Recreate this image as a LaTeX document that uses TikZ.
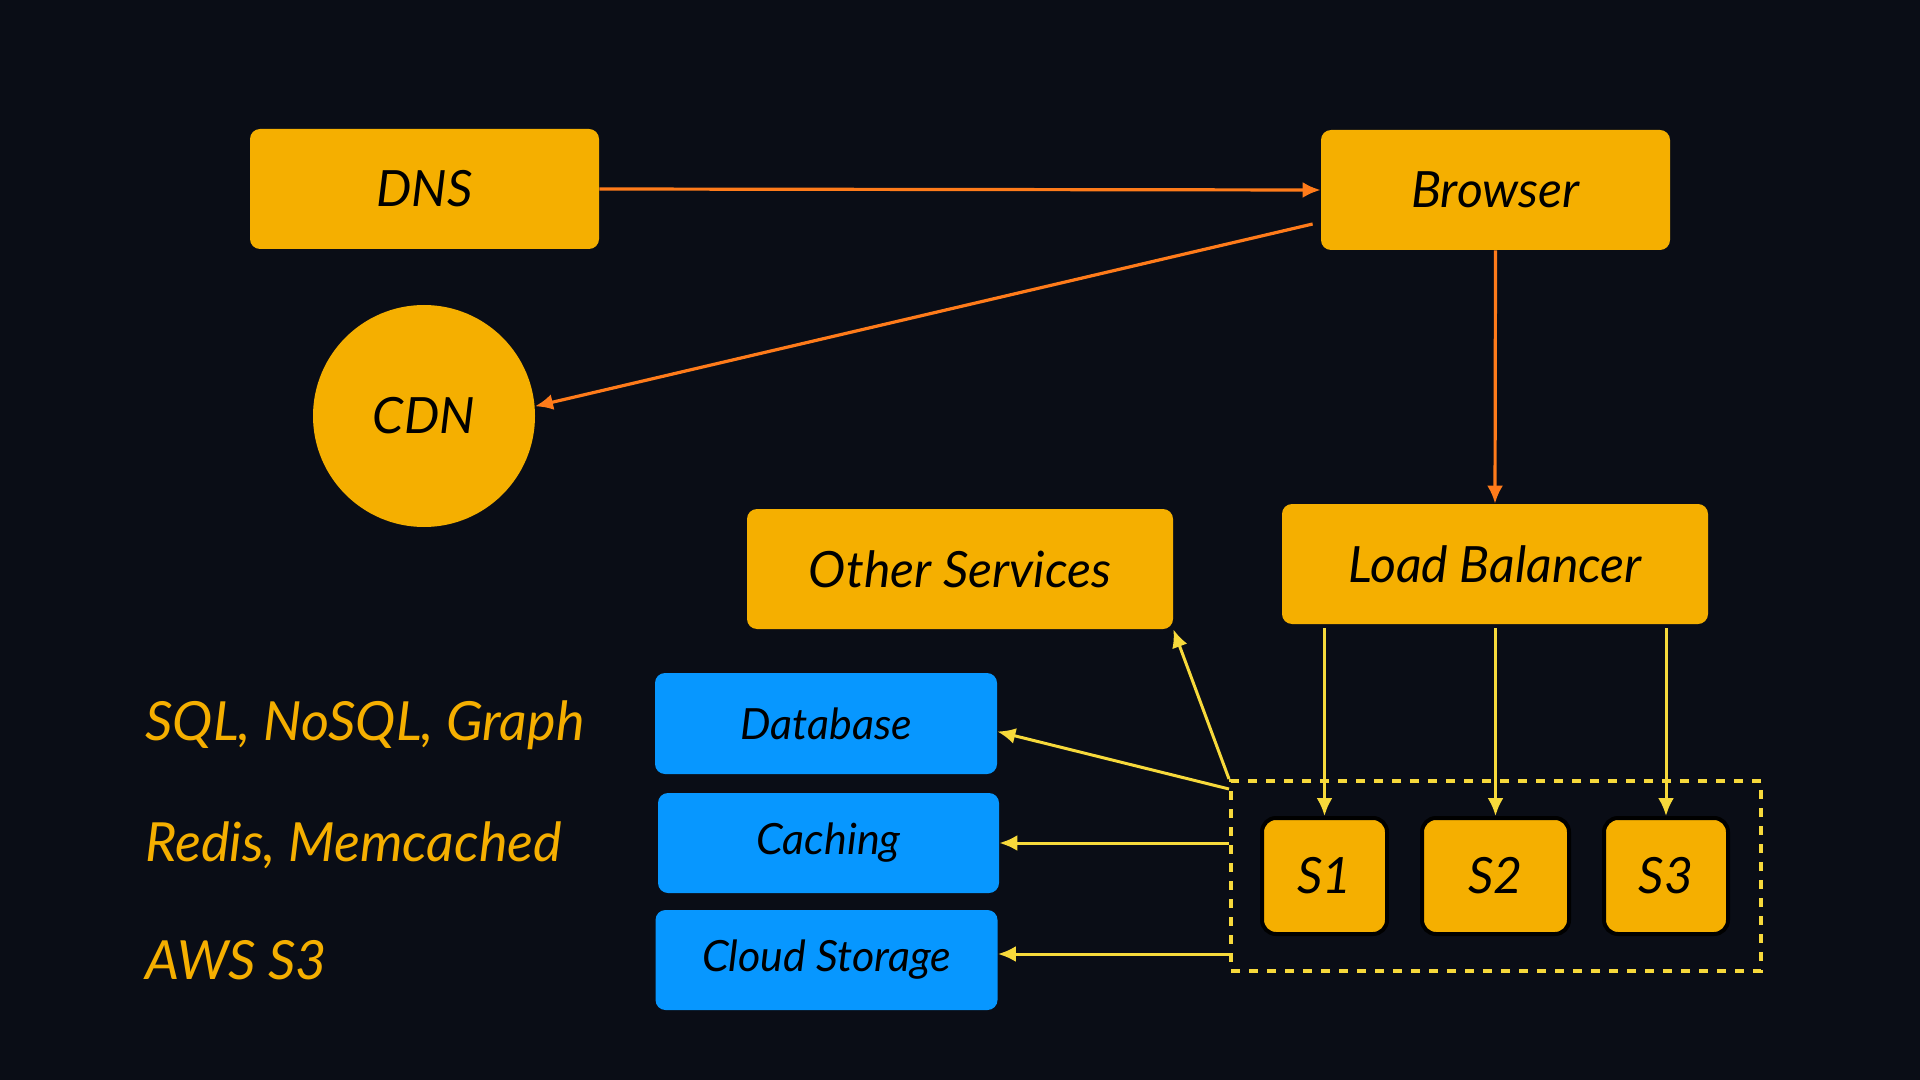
\documentclass[tikz,border=0pt]{standalone}
\usepackage{fontspec}
\setmainfont{Lato}
\usetikzlibrary{arrows.meta}
\definecolor{bg}{HTML}{0A0D16}
\definecolor{boxor}{HTML}{F5AF00}
\definecolor{boxbl}{HTML}{0797FF}
\definecolor{arror}{HTML}{FF7B1A}
\definecolor{arrye}{HTML}{F7D93B}
\begin{document}
\begin{tikzpicture}[x=0.5pt,y=-0.5pt,
  obox/.style={fill=boxor, rounded corners=5pt, inner sep=0pt, text=black,
    font=\itshape\fontsize{25}{30}\selectfont},
  bbox/.style={fill=boxbl, rounded corners=5pt, inner sep=0pt, text=black,
    font=\itshape\fontsize{21.5}{26}\selectfont},
  sbox/.style={obox, rounded corners=7pt, draw=black, line width=2pt, minimum height=58pt},
  side/.style={anchor=west, inner sep=0pt, text=boxor,
    font=\itshape\fontsize{27}{32}\selectfont},
  oarr/.style={draw=arror, line width=1.6pt, -{Latex[length=9pt,width=8pt]}},
  yarr/.style={draw=arrye, line width=1.5pt, -{Latex[length=9pt,width=8pt]}},
  grpbox/.style={draw=arrye, line width=2pt, dash pattern=on 4.5pt off 4.5pt, inner sep=0pt}
]
\fill[bg] (0,0) rectangle (1920,1080);
\useasboundingbox (0,0) rectangle (1920,1080);

\node[obox, minimum width=174.5pt, minimum height=60pt] (dns) at (424.5,189) {DNS};
\node[obox, minimum width=174.5pt, minimum height=60pt] (browser) at (1495.5,190) {Browser};
\node[circle, fill=boxor, inner sep=0pt, minimum size=111pt, text=black,
  font=\itshape\fontsize{25}{30}\selectfont] (cdn) at (424,416) {CDN};
\node[obox, minimum width=213pt, minimum height=60pt] (other) at (960,569) {Other Services};
\node[obox, minimum width=213pt, minimum height=60pt] (lb) at (1495,564) {Load Balancer};

\node[bbox, minimum width=171pt, minimum height=50.5pt] (db) at (826,723.5) {Database};
\node[bbox, minimum width=170.5pt, minimum height=50pt] (cache) at (828.5,843) {Caching};
\node[bbox, minimum width=171pt, minimum height=50pt] (cloud) at (826.5,960) {Cloud Storage};

\node[grpbox, minimum width=265pt, minimum height=95pt] (grp) at (1496,876) {};
\node[sbox, minimum width=62.5pt] (s1) at (1324.5,876) {S1};
\node[sbox, minimum width=73.5pt] (s2) at (1495.5,876) {S2};
\node[sbox, minimum width=62pt] (s3) at (1666,876) {S3};

\node[side] (t1) at (145,725) {SQL, NoSQL, Graph};
\node[side] (t2) at (145,845) {Redis, Memcached};
\node[side] (t3) at (145,960) {AWS S3};

% orange connectors
\draw[oarr] (dns.east) -- (browser.west);
\draw[oarr] ([xshift=-4pt,yshift=-17pt]browser.west) -- (cdn.5);
\draw[oarr] (browser.south) -- (lb.north);

% load balancer to servers
\draw[yarr, shorten <=2pt] (lb.south -| s1.north) -- (s1.north);
\draw[yarr, shorten <=2pt] (lb.south -| s2.north) -- (s2.north);
\draw[yarr, shorten <=2pt] (lb.south -| s3.north) -- (s3.north);

% servers group to services
\draw[yarr] (grp.north west) -- (other.south east);
\draw[yarr] ([yshift=-5pt]grp.north west) -- ([yshift=-4pt]db.east);
\draw[yarr] (cache.east -| grp.west) -- (cache.east);
\draw[yarr] ([yshift=3pt]cloud.east -| grp.west) -- ([yshift=3pt]cloud.east);
\end{tikzpicture}
\end{document}
